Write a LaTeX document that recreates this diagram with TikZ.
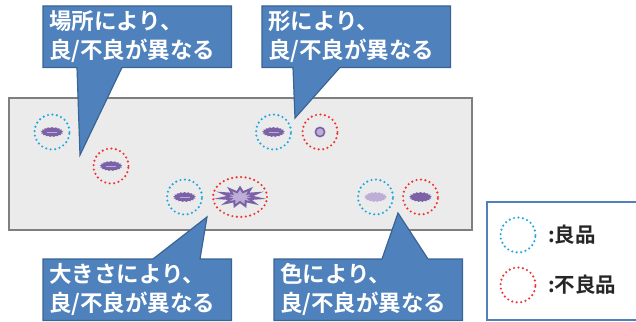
\documentclass[tikz,border=0pt]{standalone}
\usepackage{fontspec}
\newfontfamily\jpfont{Noto Sans CJK JP}[BoldFont={Noto Sans CJK JP Bold}]
\usetikzlibrary{shapes.geometric,backgrounds}
\definecolor{calloutblue}{HTML}{4F81BD}
\definecolor{calloutedge}{HTML}{3A6494}
\definecolor{goodblue}{HTML}{1FA9E1}
\definecolor{badred}{HTML}{EE3530}
\definecolor{plategray}{HTML}{EBEBEB}
\definecolor{plateedge}{HTML}{7F7F7F}
\definecolor{blobdark}{HTML}{7B61A6}
\definecolor{bloblight}{HTML}{BCAED6}
\tikzset{
	good/.style={circle, draw=goodblue, line width=2.4pt, dash pattern=on 0pt off 4.5pt, line cap=round, minimum size=35pt, inner sep=0pt},
	bad/.style={good, draw=badred},
	callout/.style={fill=calloutblue, draw=calloutedge, line width=1.2pt},
	calltext/.style={anchor=north west, text=white, font=\jpfont\bfseries\fontsize{22.5}{29}\selectfont, align=left, minimum width=188pt, minimum height=61pt, inner xsep=6pt, inner ysep=0pt, text width=176pt},
	keytext/.style={anchor=west, text=black!85, font=\jpfont\bfseries\fontsize{20.5}{22}\selectfont, inner sep=0pt}
}
% small spiky flaw, #1 = position, #2 = colour
\newcommand{\flaw}[2]{
	\node[star, star points=17, star point ratio=1.22, fill=#2, minimum size=10pt, inner sep=0pt, xscale=2.3] at #1 {};
}

\begin{document}
\begin{tikzpicture}[x=1pt, y=-1pt]
	\useasboundingbox (0,0) rectangle (636,321);
%
	\node[good] (posok) at (52,132) {};
	\node[bad] (posng) at (111,166) {};
	\node[good] (shapeok) at (273.5,132) {};
	\node[bad] (shapeng) at (320,132) {};
	\node[good] (sizeok) at (184.5,197) {};
	\node[bad, ellipse, minimum width=54pt, minimum height=40pt] (sizeng) at (240,197) {};
	\node[good] (colok) at (375.5,197) {};
	\node[bad] (colng) at (420.5,197) {};
%
	\flaw{(posok)}{blobdark}
	\draw[bloblight, line width=0.8pt] ([xshift=-5pt]posok.center) -- ([xshift=5pt]posok.center);
	\flaw{(posng)}{blobdark}
	\draw[bloblight, line width=0.8pt] ([xshift=-5pt]posng.center) -- ([xshift=5pt]posng.center);
	\flaw{(shapeok)}{blobdark}
	\draw[bloblight, line width=0.8pt] ([xshift=-5pt]shapeok.center) -- ([xshift=5pt]shapeok.center);
	\draw[fill=bloblight, draw=blobdark, line width=1.6pt] (shapeng) circle (4.6);
	\flaw{(sizeok)}{blobdark}
	\draw[bloblight, line width=0.8pt] ([xshift=-5pt]sizeok.center) -- ([xshift=5pt]sizeok.center);
	\node[star, star points=11, star point ratio=1.9, fill=bloblight, draw=blobdark, line width=2pt, minimum size=19pt, inner sep=0pt, xscale=2.05] at (sizeng) {};
	\flaw{(colok)}{bloblight}
	\flaw{(colng)}{blobdark}
%
	\coordinate (postip) at (80,155);
	\coordinate (shapetip) at (295,118);
	\coordinate (sizetip) at (207,217);
	\coordinate (coltip) at (398,213);
%
	\node[calltext] (posnote) at (43,6) {場所により、\\良/不良が異なる};
	\node[calltext] (shapenote) at (262,6) {形により、\\良/不良が異なる};
	\node[calltext] (sizenote) at (43,259) {大きさにより、\\良/不良が異なる};
	\node[calltext] (colnote) at (274,259) {色により、\\良/不良が異なる};
%
	\begin{scope}[on background layer]
		\draw[fill=plategray, draw=plateedge, line width=2pt] (9,98) rectangle (472,230);
		\path[callout] (posnote.north west) -- (posnote.north east) -- (posnote.south east) -- ([xshift=79pt]posnote.south west) -- (postip) -- ([xshift=34pt]posnote.south west) -- (posnote.south west) -- cycle;
		\path[callout] (shapenote.north west) -- (shapenote.north east) -- (shapenote.south east) -- ([xshift=78pt]shapenote.south west) -- (shapetip) -- ([xshift=31pt]shapenote.south west) -- (shapenote.south west) -- cycle;
		\path[callout] (sizenote.north west) -- ([xshift=110pt]sizenote.north west) -- (sizetip) -- ([xshift=157pt]sizenote.north west) -- (sizenote.north east) -- (sizenote.south east) -- (sizenote.south west) -- cycle;
		\path[callout] (colnote.north west) -- ([xshift=108pt]colnote.north west) -- (coltip) -- ([xshift=154pt]colnote.north west) -- (colnote.north east) -- (colnote.south east) -- (colnote.south west) -- cycle;
	\end{scope}
%
	\draw[calloutblue, line width=2pt] (487,202) rectangle (642,320);
	\node[good] (keyok) at (518,235) {};
	\node[bad] (keyng) at (518,285) {};
	\node[keytext] (keyoktext) at (548,235) {:良品};
	\node[keytext] (keyngtext) at (548,285) {:不良品};
\end{tikzpicture}
\end{document}
